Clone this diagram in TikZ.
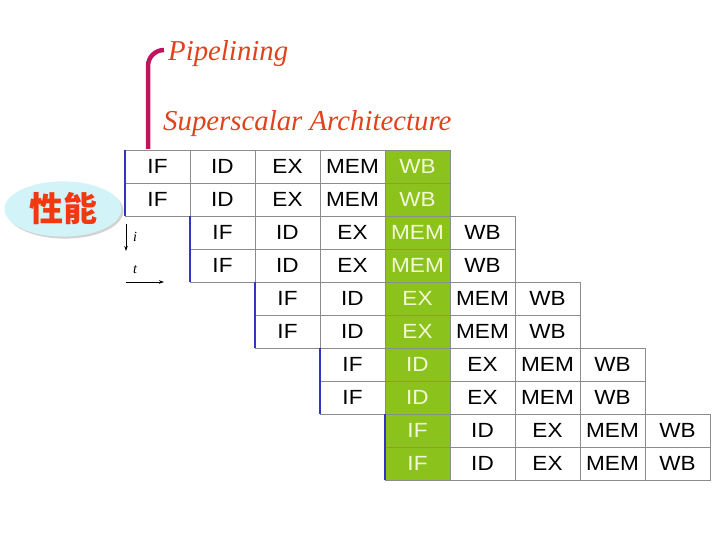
\documentclass[tikz,border=0pt]{standalone}
\usepackage{fontspec}
\setmainfont{Liberation Serif}
\setsansfont{Liberation Sans}
\newfontfamily\cjk{Noto Sans CJK SC}
\newfontfamily\cellfont{Liberation Sans}[FakeStretch=1.1]
\usetikzlibrary{arrows.meta,shadows,shapes.geometric}
\definecolor{ppink}{HTML}{000000}
\definecolor{pptitle}{HTML}{E0421C}
\definecolor{ppbracket}{HTML}{C0145E}
\definecolor{ppgrid}{HTML}{8C8C8C}
\definecolor{ppgreen}{HTML}{8CC21C}
\definecolor{ppgreentext}{HTML}{F2F9D8}
\definecolor{ppblue}{HTML}{3434C4}
\definecolor{ppbadge}{HTML}{D2F3F7}
\definecolor{ppbadgetext}{HTML}{F2380E}
\tikzset{
  ppcell/.style={
    draw=ppgrid,
    line width=0.8pt,
    minimum width=65pt,
    minimum height=33pt,
    inner sep=0pt,
    font=\cellfont\fontsize{20.5}{22}\selectfont
  },
  pptitle/.style={
    font=\itshape\fontsize{28.8}{30}\selectfont,
    text=pptitle,
    anchor=base west,
    inner sep=0pt
  },
  ppbadge/.style={
    ellipse,
    draw=none,
    fill=ppbadge,
    minimum width=117pt,
    minimum height=54pt,
    drop shadow={shadow xshift=2pt,shadow yshift=-2pt,opacity=0.35},
    font=\cjk\bfseries\fontsize{34}{36}\selectfont,
    text=ppbadgetext
  },
  ppbracket/.style={
    line width=4.5pt,
    color=ppbracket,
    rounded corners=16pt
  },
  ppstart/.style={
    line width=2pt,
    color=ppblue
  },
  ppaxis/.style={
    -{Stealth[length=5pt,width=3.5pt]},
    line width=0.7pt,
    color=ppink
  },
  pplabel/.style={
    font=\itshape\fontsize{14}{14}\selectfont,
    text=ppink,
    inner sep=0pt
  }
}
\begin{document}
\begin{tikzpicture}[x=1pt,y=-1pt]
  \useasboundingbox (0,0) rectangle (720,540);

  % titles and bracket
  \node[pptitle] (pipe) at (168,61) {Pipelining};
  \node[pptitle] (super) at (163,131) {Superscalar Architecture};
  \coordinate (brk) at (148,149);
  \coordinate (brktop) at (148,50);
  \draw[ppbracket] (brk) -- (brktop) -- ([xshift=-4pt,yshift=11pt]pipe.base west);

  % badge
  \node[ppbadge] (perf) at (63,209) {性能};

  % pipeline table
  \foreach \r in {0,...,9}{
    \pgfmathtruncatemacro{\off}{div(\r,2)}
    \foreach \s/\lbl in {0/IF,1/ID,2/EX,3/MEM,4/WB}{
      \pgfmathtruncatemacro{\col}{\off+\s}
      \ifnum\col=4 \def\cf{ppgreen}\def\ct{ppgreentext}\else\def\cf{white}\def\ct{ppink}\fi
      \node[ppcell, fill=\cf, text=\ct] (c-\r-\s) at ({157.5+65*\col},{166.5+33*\r}) {\lbl};
    }
  }

  % issue edges
  \foreach \a/\b in {0/1,2/3,4/5,6/7,8/9}{
    \draw[ppstart] (c-\a-0.north west) -- (c-\b-0.south west);
  }

  % axes
  \coordinate (ai) at (126,224);
  \coordinate (bi) at (126,251);
  \coordinate (at) at (126,282);
  \coordinate (bt) at (164,282);
  \draw[ppaxis] (ai) -- (bi);
  \draw[ppaxis] (at) -- (bt);
  \node[pplabel] (li) at (135,237) {i};
  \node[pplabel] (lt) at (135,270) {t};
\end{tikzpicture}
\end{document}
